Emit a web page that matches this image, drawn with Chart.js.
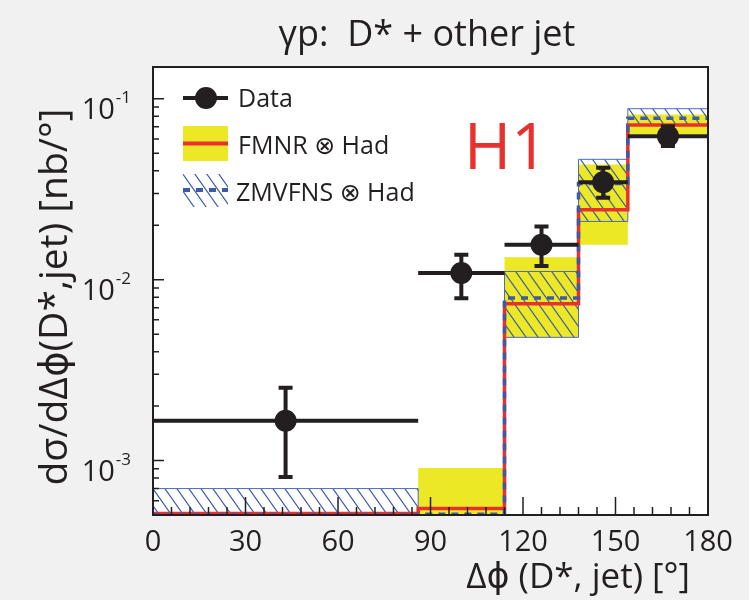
<!DOCTYPE html>
<html>
<head>
<meta charset="utf-8">
<script src="https://cdn.jsdelivr.net/npm/chart.js@4.4.0/dist/chart.umd.min.js"></script>
<style>
  html, body { margin: 0; padding: 0; background: #f1f1f1; }
</style>
</head>
<body>
<canvas id="chart" width="749" height="600"></canvas>
<script>
// bin edges in degrees
const binEdges = [0, 86, 114, 138, 154, 180];

// measured cross section
const dataX = [43, 100, 126, 146, 167];
const dataY = [0.00166, 0.0109, 0.0156, 0.0346, 0.0622];
const dataHi = [0.00253, 0.01375, 0.0197, 0.0416, 0.0705];
const dataLo = [0.00081, 0.0079, 0.0119, 0.0284, 0.0548];

// FMNR ⊗ Had: central value and band
const fmnr = [0.00051, 0.000543, 0.00737, 0.0244, 0.0716];
const fmnrUp = [0.00052, 0.00091, 0.0133, 0.0434, 0.082];
const fmnrDown = [0.0004, 0.0004, 0.0048, 0.0156, 0.064];

// ZMVFNS ⊗ Had: central value and band
const zmvfns = [0.0005, 0.000504, 0.00792, 0.034, 0.078];
const zmvfnsUp = [0.0007, 0.00048, 0.0111, 0.0463, 0.0882];
const zmvfnsDown = [0.0003, 0.0003, 0.0048, 0.021, 0.0716];

const xTicks = [0, 30, 60, 90, 120, 150, 180];
const yDecades = [-3, -2, -1];

const FONT = "'Open Sans', 'DejaVu Sans', sans-serif";
const INK = '#231f20';
const RED = '#e8302c';
const YELLOW = '#ece826';
const BLUE = '#3c5aa8';

function hatchPattern() {
    const w = 12, h = 17;
    const c = document.createElement('canvas');
    c.width = w; c.height = h;
    const g = c.getContext('2d');
    g.strokeStyle = '#3a5aac';
    g.lineWidth = 1.2;
    g.beginPath();
    for (const off of [-w, 0, w]) {
        g.moveTo(off - w, -h);
        g.lineTo(off + 2 * w, 2 * h);
    }
    g.stroke();
    return g.createPattern(c, 'repeat');
}
const HATCH = hatchPattern();

// histogram -> points for a stepped line
function stepPoints(values) {
    const pts = values.map((v, i) => ({ x: binEdges[i], y: v }));
    pts.push({ x: binEdges[binEdges.length - 1], y: values[values.length - 1] });
    return pts;
}

const fondo = {
    id: 'fondo',
    beforeDraw(chart) {
        const { ctx, chartArea: a } = chart;
        ctx.save();
        ctx.fillStyle = '#f1f1f1';
        ctx.fillRect(0, 0, chart.width, chart.height);
        ctx.fillStyle = '#ffffff';
        ctx.fillRect(a.left, a.top, a.right - a.left, a.bottom - a.top);
        ctx.restore();
    }
};

const barrasError = {
    id: 'barrasError',
    afterDatasetsDraw(chart) {
        const { ctx, chartArea: a, scales: { x, y } } = chart;
        ctx.save();
        ctx.beginPath();
        ctx.rect(a.left, a.top, a.right - a.left, a.bottom - a.top);
        ctx.clip();
        ctx.strokeStyle = INK;
        ctx.lineWidth = 4;
        dataX.forEach((cx, i) => {
            const px = x.getPixelForValue(cx);
            const py = y.getPixelForValue(dataY[i]);
            const yHi = y.getPixelForValue(dataHi[i]);
            const yLo = y.getPixelForValue(dataLo[i]);
            ctx.beginPath();
            ctx.moveTo(x.getPixelForValue(binEdges[i]), py);
            ctx.lineTo(x.getPixelForValue(binEdges[i + 1]), py);
            ctx.moveTo(px, yHi); ctx.lineTo(px, yLo);
            ctx.moveTo(px - 7, yHi); ctx.lineTo(px + 7, yHi);
            ctx.moveTo(px - 7, yLo); ctx.lineTo(px + 7, yLo);
            ctx.stroke();
        });
        ctx.restore();
    }
};

const marco = {
    id: 'marco',
    afterDraw(chart) {
        const { ctx, chartArea: a, scales: { x, y } } = chart;
        ctx.save();
        ctx.strokeStyle = INK;

        // ticks pointing into the frame
        ctx.lineWidth = 1.5;
        ctx.beginPath();
        for (let v = 0; v <= 180; v += 6) {
            const px = x.getPixelForValue(v);
            const len = v % 30 === 0 ? 18 : 8;
            ctx.moveTo(px, a.bottom); ctx.lineTo(px, a.bottom - len);
        }
        for (let e = -4; e <= -1; e++) {
            for (let m = 1; m <= 9; m++) {
                const v = m * Math.pow(10, e);
                if (v < y.min || v > y.max) continue;
                const py = y.getPixelForValue(v);
                const len = m === 1 ? 11 : 6;
                ctx.moveTo(a.left, py); ctx.lineTo(a.left + len, py);
            }
        }
        ctx.stroke();

        ctx.lineWidth = 2;
        ctx.strokeRect(a.left, a.top, a.right - a.left, a.bottom - a.top);

        // tick labels
        ctx.fillStyle = INK;
        ctx.font = `29px ${FONT}`;
        ctx.textAlign = 'center';
        ctx.textBaseline = 'alphabetic';
        xTicks.forEach(v => ctx.fillText(String(v), x.getPixelForValue(v), 551));

        yDecades.forEach(e => {
            const py = y.getPixelForValue(Math.pow(10, e));
            ctx.font = `17px ${FONT}`;
            ctx.textAlign = 'right';
            const sup = String(e);
            ctx.fillText(sup, 131, py + 4);
            const supW = ctx.measureText(sup).width;
            ctx.font = `29px ${FONT}`;
            ctx.fillText('10', 131 - supW - 1, py + 20);
        });

        // titles
        ctx.textAlign = 'center';
        ctx.font = `36px ${FONT}`;
        ctx.fillText('γp:  D* + other jet', 427, 46);

        ctx.textAlign = 'right';
        ctx.font = `35px ${FONT}`;
        ctx.fillText('Δϕ (D*, jet) [°]', 690, 588);

        ctx.save();
        ctx.translate(67, 297);
        ctx.rotate(-Math.PI / 2);
        ctx.textAlign = 'center';
        ctx.font = `39px ${FONT}`;
        ctx.fillText('dσ/dΔϕ(D*,jet) [nb/°]', 0, 0);
        ctx.restore();

        // experiment label
        ctx.fillStyle = RED;
        ctx.textAlign = 'left';
        ctx.font = `64px ${FONT}`;
        ctx.fillText('H1', 464, 169);

        // legend
        ctx.lineWidth = 4;
        ctx.beginPath();
        ctx.moveTo(183, 98); ctx.lineTo(228, 98);
        ctx.stroke();
        ctx.fillStyle = INK;
        ctx.beginPath();
        ctx.arc(206, 98, 11, 0, Math.PI * 2);
        ctx.fill();

        ctx.fillStyle = YELLOW;
        ctx.fillRect(183, 126, 45, 35);
        ctx.strokeStyle = RED;
        ctx.beginPath();
        ctx.moveTo(183, 143.5); ctx.lineTo(228, 143.5);
        ctx.stroke();

        ctx.fillStyle = HATCH;
        ctx.fillRect(183, 174, 45, 33);
        ctx.strokeStyle = BLUE;
        ctx.setLineDash([7, 6]);
        ctx.beginPath();
        ctx.moveTo(183, 190); ctx.lineTo(228, 190);
        ctx.stroke();
        ctx.setLineDash([]);

        ctx.fillStyle = INK;
        ctx.font = `25px ${FONT}`;
        ctx.fillText('Data', 238, 107);
        ctx.fillText('FMNR ⊗ Had', 238, 154);
        ctx.fillText('ZMVFNS ⊗ Had', 236, 201);

        ctx.restore();
    }
};

// a bin's value holds from its left edge to the next one
const stepBase = { stepped: 'before', pointRadius: 0, fill: false };

new Chart(document.getElementById('chart'), {
    type: 'line',
    data: {
        datasets: [
            {
                label: 'Data',
                data: dataX.map((v, i) => ({ x: v, y: dataY[i] })),
                showLine: false,
                pointRadius: 11,
                pointBackgroundColor: INK,
                pointBorderWidth: 0,
                order: 0
            },
            { ...stepBase, label: 'ZMVFNS', data: stepPoints(zmvfns), borderColor: BLUE, borderWidth: 3.5, borderDash: [7, 6], order: 1 },
            { ...stepBase, label: 'FMNR', data: stepPoints(fmnr), borderColor: RED, borderWidth: 3.5, order: 2 },
            { ...stepBase, label: 'ZMVFNS up', data: stepPoints(zmvfnsUp), borderColor: '#4f6db5', borderWidth: 1, fill: '+1', backgroundColor: HATCH, order: 3 },
            { ...stepBase, label: 'ZMVFNS down', data: stepPoints(zmvfnsDown), borderColor: '#4f6db5', borderWidth: 1, order: 3 },
            { ...stepBase, label: 'FMNR up', data: stepPoints(fmnrUp), borderColor: 'rgba(0,0,0,0)', borderWidth: 0, fill: '+1', backgroundColor: YELLOW, order: 4 },
            { ...stepBase, label: 'FMNR down', data: stepPoints(fmnrDown), borderColor: 'rgba(0,0,0,0)', borderWidth: 0, order: 4 }
        ]
    },
    options: {
        responsive: false,
        animation: false,
        layout: { padding: { left: 153, right: 41, top: 67, bottom: 85 } },
        plugins: { legend: { display: false }, tooltip: { enabled: false } },
        scales: {
            x: { type: 'linear', min: 0, max: 180, display: false },
            y: { type: 'logarithmic', min: 0.0005, max: 0.15, display: false }
        }
    },
    plugins: [fondo, barrasError, marco]
});
</script>
</body>
</html>
